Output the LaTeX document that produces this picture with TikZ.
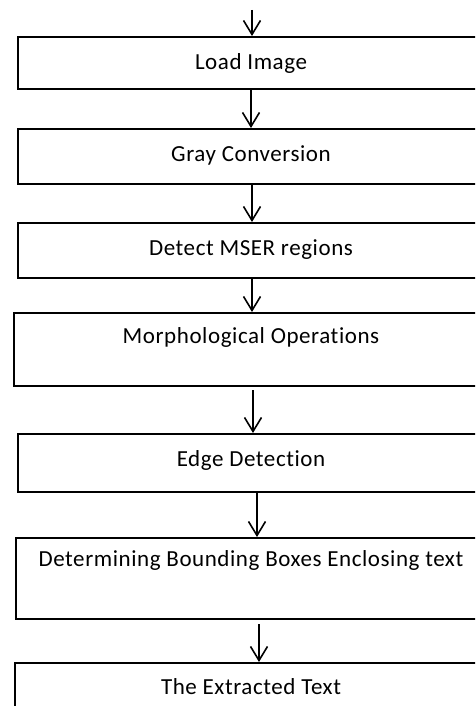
\documentclass[tikz,border=0pt]{standalone}
\usepackage{fontspec}
\setmainfont{Carlito}[LetterSpace=2.5, Ligatures=CommonOff]
\usetikzlibrary{arrows.meta}

\begin{document}
\begin{tikzpicture}[x=1pt, y=-1pt,
    stepbox/.style={draw, line width=2pt, inner xsep=0pt, inner ysep=0pt, font=\fontsize{23}{27}\selectfont},
    flow/.style={line width=1.6pt, -{Straight Barb[length=14pt, width=17pt]}}]
    \useasboundingbox (0,0) rectangle (475,706);
    \clip (0,0) rectangle (475,706);
    \node[stepbox, minimum width=466pt, text height=33pt, text depth=19pt, anchor=north west] (load) at (17,36) {Load Image};
    \node[stepbox, minimum width=466pt, text height=32pt, text depth=23pt, anchor=north west] (gray) at (17,128) {Gray Conversion};
    \node[stepbox, minimum width=466pt, text height=32pt, text depth=23pt, anchor=north west] (mser) at (17,222) {Detect MSER regions};
    \node[stepbox, minimum width=474pt, text height=30pt, text depth=43pt, anchor=north west] (morph) at (13,312) {Morphological Operations};
    \node[stepbox, minimum width=466pt, text height=32pt, text depth=26pt, anchor=north west] (edge) at (17,433) {Edge Detection};
    \node[stepbox, minimum width=470pt, text height=28pt, text depth=53pt, anchor=north west] (bbox) at (15,537) {Determining Bounding Boxes Enclosing text};
    \node[stepbox, minimum width=472pt, text height=31pt, text depth=30pt, anchor=north west] (result) at (14,662) {The Extracted Text};
    \coordinate (start) at (252,10);
    \draw[flow] (start) -- (start |- load.north);
    \draw[flow] (load.south) -- (gray.north);
    \draw[flow] ([xshift=1pt]gray.south) -- ([xshift=1pt]mser.north);
    \draw[flow] ([xshift=1pt]mser.south) -- ([xshift=1pt]morph.north);
    \draw[flow] ([xshift=2pt, yshift=-3pt]morph.south) -- ([xshift=2pt]edge.north);
    \draw[flow] ([xshift=6pt]edge.south) -- ([xshift=6pt]bbox.north);
    \draw[flow] ([xshift=8pt, yshift=-4pt]bbox.south) -- ([xshift=8pt]result.north);
\end{tikzpicture}
\end{document}
